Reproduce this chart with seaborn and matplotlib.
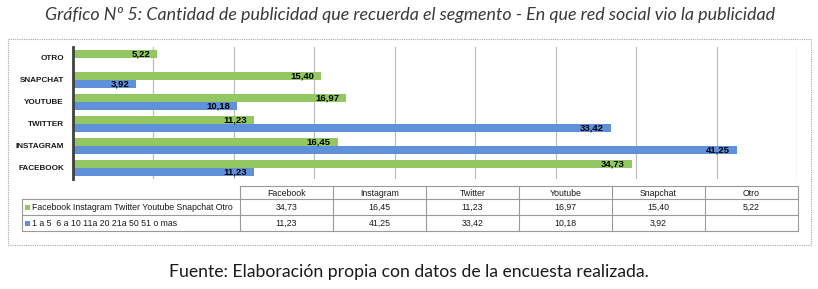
import matplotlib
matplotlib.use("Agg")
import matplotlib.pyplot as plt
import seaborn as sns
import pandas as pd
import numpy as np
from matplotlib.patches import Rectangle

# ---------------- data ----------------
categories = ["OTRO", "SNAPCHAT", "YOUTUBE", "TWITTER", "INSTAGRAM", "FACEBOOK"]
series_names = ["Facebook Instagram Twitter Youtube Snapchat Otro",
                "1 a 5  6 a 10 11a 20 21a 50 51 o mas"]
green_values = [5.22, 15.40, 16.97, 11.23, 16.45, 34.73]
blue_values = [np.nan, 3.92, 10.18, 33.42, 41.25, 11.23]
table_columns = ["Facebook", "Instagram", "Twitter", "Youtube", "Snapchat", "Otro"]
table_row1 = ["34,73", "16,45", "11,23", "16,97", "15,40", "5,22"]
table_row2 = ["11,23", "41,25", "33,42", "10,18", "3,92", ""]

title_text = "Gráfico Nº 5: Cantidad de publicidad que recuerda el segmento - En que red social vio la publicidad"
source_text = "Fuente: Elaboración propia con datos de la encuesta realizada."

GREEN = "#93c762"
BLUE = "#5f91db"

df = pd.DataFrame({
    "categoria": categories * 2,
    "valor": green_values + blue_values,
    "serie": [series_names[0]] * len(categories) + [series_names[1]] * len(categories),
})

W, H = 818, 289
fig = plt.figure(figsize=(W / 100, H / 100), dpi=100)
fig.patch.set_facecolor("white")

def px_axes(x0, y0, x1, y1):
    return fig.add_axes([x0 / W, 1 - y1 / H, (x1 - x0) / W, (y1 - y0) / H])

# ---------------- bars ----------------
ax = px_axes(73, 47, 797, 179)
sns.barplot(data=df, x="valor", y="categoria", hue="serie", order=categories,
            hue_order=series_names, palette=[GREEN, BLUE], orient="h",
            width=0.74, gap=0.06, ax=ax, legend=False, saturation=1,
            edgecolor="none")
ax.set_xlim(0, 45)
ax.set_ylim(5.5, -0.5)
ax.set_xticks(np.arange(5, 46, 5))
ax.set_xticklabels([])
ax.tick_params(axis="both", length=0)
ax.tick_params(axis="y", pad=6.5)
ax.grid(axis="x", color="#bdbdbd", linewidth=0.9)
ax.set_axisbelow(True)
ax.set_xlabel("")
ax.set_ylabel("")
for s in ["top", "right", "bottom"]:
    ax.spines[s].set_visible(False)
ax.spines["left"].set_color("#404040")
ax.spines["left"].set_linewidth(2)
for lab in ax.get_yticklabels():
    lab.set_fontfamily("Liberation Sans")
    lab.set_fontsize(5.9)
    lab.set_fontweight("bold")
    lab.set_color("#1a1a1a")

for cont in ax.containers:
    vals = cont.datavalues
    labels = ["" if np.isnan(v) else f"{v:.2f}".replace(".", ",") for v in vals]
    anns = ax.bar_label(cont, labels=labels, padding=-5,
                        fontsize=6.8, fontweight="bold", family="Liberation Sans",
                        color="black")
    for a in anns:
        a.set_ha("right")

# ---------------- overlay for table, borders, texts ----------------
ov = fig.add_axes([0, 0, 1, 1], facecolor="none")
ov.set_xlim(0, W)
ov.set_ylim(H, 0)
ov.axis("off")

# outer dotted border
ov.add_patch(Rectangle((8, 39), 803, 206, fill=False, edgecolor="#a8a8a8",
                       linewidth=0.8, linestyle=(0, (1, 1))))

# data table
col_x = [240 + i * 93 for i in range(len(table_columns) + 1)]
row_y = [186, 199, 215, 231]
lc = "#9a9a9a"
lw = 0.8
ov.plot([col_x[0], col_x[-1]], [row_y[0], row_y[0]], color=lc, lw=lw)
for x in col_x:
    ov.plot([x, x], [row_y[0], row_y[-1]], color=lc, lw=lw)
for y in row_y[1:]:
    ov.plot([22, col_x[-1]], [y, y], color=lc, lw=lw)
ov.plot([22, 22], [row_y[1], row_y[-1]], color=lc, lw=lw)

tfont = dict(family="Liberation Sans", fontsize=6.3, color="#1a1a1a")
for i, name in enumerate(table_columns):
    xc = (col_x[i] + col_x[i + 1]) / 2
    ov.text(xc, (row_y[0] + row_y[1]) / 2 + 0.5, name, ha="center", va="center", **tfont)
    ov.text(xc, (row_y[1] + row_y[2]) / 2 + 0.5, table_row1[i], ha="center", va="center", **tfont)
    ov.text(xc, (row_y[2] + row_y[3]) / 2 + 0.5, table_row2[i], ha="center", va="center", **tfont)

for j, (name, colr) in enumerate(zip(series_names, [GREEN, BLUE])):
    yc = (row_y[j + 1] + row_y[j + 2]) / 2
    ov.add_patch(Rectangle((24.5, yc - 2.5), 5, 5, facecolor=colr, edgecolor="none"))
    ov.text(32, yc + 0.5, name, ha="left", va="center", **tfont)

# title & source
fig.text(410 / W, 1 - 15 / H, title_text, ha="center", va="center",
         family="Lato", style="italic", fontsize=12.9, color="#3a3a3a")
fig.text(409 / W, 1 - 272 / H, source_text, ha="center", va="center",
         family="Lato", fontsize=12.7, color="#1a1a1a")

fig.savefig("out.png", dpi=100, facecolor="white")
